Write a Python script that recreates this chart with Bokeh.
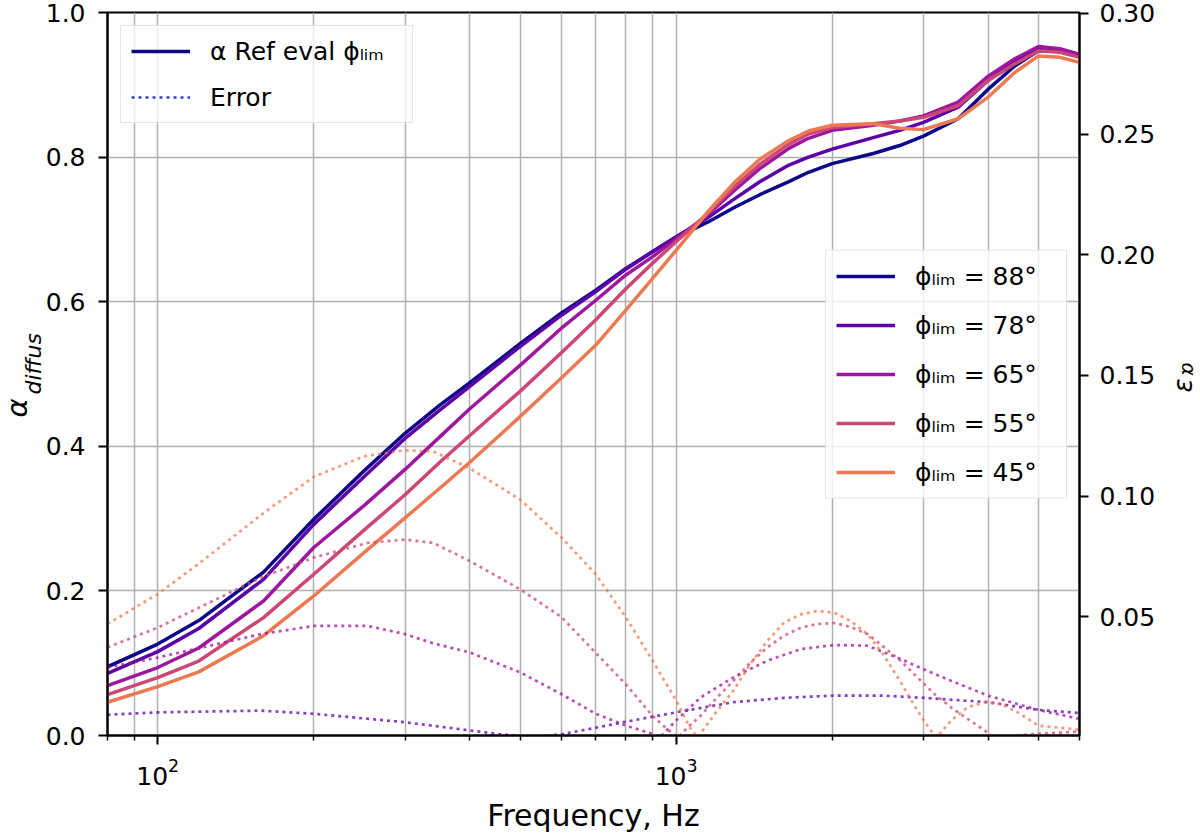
import numpy as np
from bokeh.plotting import figure
from bokeh.models import (LinearAxis, Range1d, FixedTicker, Legend, LegendItem, Label, Title,
                          PrintfTickFormatter)
from bokeh.embed import file_html
from bokeh.resources import INLINE

# ---------------- data ----------------
FREQ_HZ = [80, 100, 120, 160, 200, 250, 300, 350, 400, 500, 600, 700, 800, 900, 1000,
           1150, 1300, 1450, 1650, 1800, 2000, 2400, 2700, 3000, 3500, 4000, 4500, 5000, 5500, 6000]

ALPHA_88 = [0.095, 0.1265, 0.159, 0.226, 0.299, 0.366, 0.418, 0.457, 0.488, 0.542, 0.584, 0.616, 0.646, 0.669, 0.689,
            0.710, 0.731, 0.748, 0.766, 0.779, 0.791, 0.805, 0.816, 0.829, 0.853, 0.894, 0.926, 0.947, 0.946, 0.940]
ALPHA_78 = [0.086, 0.116, 0.148, 0.216, 0.292, 0.358, 0.411, 0.450, 0.483, 0.538, 0.581, 0.614, 0.645, 0.669, 0.690,
            0.716, 0.743, 0.766, 0.789, 0.800, 0.811, 0.827, 0.837, 0.848, 0.869, 0.906, 0.933, 0.952, 0.949, 0.942]
ALPHA_65 = [0.069, 0.094, 0.121, 0.186, 0.260, 0.318, 0.368, 0.413, 0.452, 0.512, 0.563, 0.602, 0.637, 0.662, 0.687,
            0.720, 0.755, 0.784, 0.812, 0.826, 0.837, 0.844, 0.850, 0.857, 0.876, 0.912, 0.936, 0.953, 0.950, 0.942]
ALPHA_55 = [0.0566, 0.080, 0.103, 0.163, 0.223, 0.284, 0.333, 0.378, 0.415, 0.476, 0.529, 0.575, 0.618, 0.653, 0.683,
            0.722, 0.760, 0.790, 0.818, 0.832, 0.841, 0.846, 0.850, 0.855, 0.871, 0.906, 0.929, 0.947, 0.945, 0.938]
ALPHA_45 = [0.046, 0.0676, 0.088, 0.138, 0.193, 0.253, 0.301, 0.342, 0.378, 0.441, 0.494, 0.540, 0.5885, 0.632, 0.671,
            0.724, 0.766, 0.797, 0.823, 0.836, 0.844, 0.846, 0.840, 0.838, 0.853, 0.883, 0.917, 0.940, 0.938, 0.931]

ERR_88_FREQ = [80, 6000]
ERR_88 = [0.0, 0.0]

ERR_78_FREQ = [80, 100, 158, 200, 300, 400, 450, 530, 607, 700, 800, 1000, 1290, 1615, 2000, 2520, 3000, 4000, 5000, 6000]
ERR_78 = [0.0094, 0.0104, 0.0111, 0.0098, 0.0063, 0.0029, 0.0015, 0.0, 0.0015, 0.004, 0.0065, 0.0104, 0.0146,
          0.0164, 0.0173, 0.0173, 0.0164, 0.0146, 0.0114, 0.0101]

ERR_65_FREQ = [80, 100, 158, 200, 254, 300, 340, 400, 500, 600, 700, 800, 900, 930, 1000, 1115, 1290, 1500, 1740,
               2020, 2340, 2710, 3000, 3390, 4000, 5000, 6000]
ERR_65 = [0.029, 0.0331, 0.0428, 0.0462, 0.0462, 0.0428, 0.039, 0.0352, 0.027, 0.018, 0.0098, 0.0049, 0.0015, 0.0,
          0.007, 0.0166, 0.0249, 0.0318, 0.0366, 0.0383, 0.038, 0.0325, 0.0283, 0.0235, 0.0173, 0.0114, 0.0077]

ERR_55_FREQ = [80, 100, 158, 200, 254, 300, 340, 400, 500, 600, 700, 800, 900, 960, 1010, 1050, 1115, 1200, 1290,
               1390, 1500, 1615, 1740, 1870, 2020, 2170, 2340, 2520, 2710, 2920, 3150, 3390, 3650, 3930, 4100,
               4500, 5000, 5500, 6000]
ERR_55 = [0.0373, 0.0455, 0.0662, 0.0745, 0.0806, 0.082, 0.0806, 0.0731, 0.0614, 0.050, 0.035, 0.022, 0.009, 0.0035,
          0.0, 0.004, 0.009, 0.0166, 0.0235, 0.031, 0.0373, 0.0421, 0.0455, 0.047, 0.0474, 0.0458, 0.0428, 0.0373,
          0.0318, 0.0249, 0.018, 0.0125, 0.0077, 0.003, 0.0, 0.0008, 0.0015, 0.002, 0.0025]

ERR_45_FREQ = [80, 100, 120, 160, 200, 250, 300, 340, 400, 500, 600, 700, 800, 900, 1000, 1060, 1100, 1200, 1290,
               1390, 1500, 1615, 1740, 1870, 2020, 2170, 2340, 2520, 2710, 2920, 3080, 3180, 3390, 3650, 3930,
               4230, 4560, 5000, 5500, 6000]
ERR_45 = [0.047, 0.0594, 0.072, 0.093, 0.108, 0.1165, 0.119, 0.1185, 0.1115, 0.0986, 0.083, 0.0676, 0.0497, 0.032,
          0.0153, 0.0045, 0.0, 0.011, 0.0194, 0.0304, 0.040, 0.0476, 0.051, 0.0524, 0.0517, 0.0483, 0.0428, 0.0339,
          0.023, 0.0111, 0.0036, 0.0, 0.007, 0.0125, 0.0146, 0.0139, 0.0104, 0.0049, 0.004, 0.0032]

PHI_LIM = ["88", "78", "65", "55", "45"]
COLORS = ["#0d0887", "#5c01a6", "#9c179e", "#cc4778", "#ed7953"]

X_MAJOR = [100, 1000]
X_MINOR = [80, 90, 200, 300, 400, 500, 600, 700, 800, 900, 2000, 3000, 4000, 5000, 6000]
Y_TICKS = [0.0, 0.2, 0.4, 0.6, 0.8, 1.0]
ERR_TICKS = [0.05, 0.10, 0.15, 0.20, 0.25, 0.30]

FONT = "DejaVu Sans"

# ---------------- figure ----------------
p = figure(width=1200, height=840, x_axis_type="log", x_range=(80, 6000), y_range=(0, 1),
           output_backend="svg", toolbar_location=None,
           min_border_left=107, min_border_right=121, min_border_top=12, min_border_bottom=105)
p.extra_y_ranges = {"err": Range1d(0.0008, 0.3004)}
p.background_fill_color = "white"
p.border_fill_color = "white"
p.outline_line_color = "black"
p.outline_line_width = 2
p.outline_line_alpha = 1.0

xa = p.xaxis[0]
xa.ticker = FixedTicker(ticks=X_MAJOR, minor_ticks=X_MINOR)
xa.axis_label = "Frequency, Hz"
xa.axis_label_text_font = FONT
xa.axis_label_text_font_size = "30px"
xa.axis_label_text_font_style = "normal"
xa.axis_label_text_color = "black"
xa.axis_label_standoff = 10
xa.major_label_standoff = 13

ya = p.yaxis[0]
ya.ticker = FixedTicker(ticks=Y_TICKS)
ya.formatter = PrintfTickFormatter(format="%.1f")
ya.major_label_standoff = 13

ra = LinearAxis(y_range_name="err", ticker=FixedTicker(ticks=ERR_TICKS),
                formatter=PrintfTickFormatter(format="%.2f"))
ra.major_label_standoff = 11
p.add_layout(ra, "right")

for ax in (xa, ya, ra):
    ax.axis_line_width = 2
    ax.axis_line_color = "black"
    ax.major_tick_line_width = 2
    ax.major_tick_line_color = "black"
    ax.major_tick_out = 9
    ax.major_tick_in = 0
    ax.minor_tick_line_width = 1.5
    ax.minor_tick_line_color = "black"
    ax.minor_tick_out = 5
    ax.minor_tick_in = 0
    ax.major_label_text_font = FONT
    ax.major_label_text_font_size = "25px"
    ax.major_label_text_color = "black"
ya.minor_tick_line_color = None
ra.minor_tick_line_color = None

p.xgrid.ticker = xa.ticker
p.ygrid.ticker = ya.ticker
p.xgrid.grid_line_color = "#b0b0b0"
p.xgrid.grid_line_width = 1.5
p.xgrid.minor_grid_line_color = "#b0b0b0"
p.xgrid.minor_grid_line_width = 1.5
p.ygrid.grid_line_color = "#b0b0b0"
p.ygrid.grid_line_width = 1.5

# ---------------- lines ----------------
solids = [ALPHA_88, ALPHA_78, ALPHA_65, ALPHA_55, ALPHA_45]
errors = [(ERR_88_FREQ, ERR_88), (ERR_78_FREQ, ERR_78), (ERR_65_FREQ, ERR_65),
          (ERR_55_FREQ, ERR_55), (ERR_45_FREQ, ERR_45)]

solid_r = []
for vals, c in zip(solids, COLORS):
    solid_r.append(p.line(FREQ_HZ, vals, line_color=c, line_width=3.5, line_join="round"))

for (f, e), c in zip(errors, COLORS):
    p.line(f, e, line_color=c, line_width=2.7, line_dash="3 4", line_alpha=0.75, y_range_name="err")

# legend-only proxies (a single point draws no visible line)
r_ref = p.line([1000], [0.5], line_color="#0d0887", line_width=3.5)
r_err = p.line([1000], [0.5], line_color="#3b3bd6", line_width=2.7, line_dash="3 4")

# ---------------- legends ----------------
def style_legend(lg, lh, sp, pad, margin, lw):
    lg.label_text_font = FONT
    lg.label_text_font_size = "25px"
    lg.label_text_color = "black"
    lg.glyph_width = 59
    lg.glyph_height = lh
    lg.label_height = lh
    lg.label_width = lw
    lg.label_standoff = 20
    lg.spacing = sp
    lg.padding = pad
    lg.margin = margin
    lg.border_line_color = "#cccccc"
    lg.border_line_width = 1.5
    lg.background_fill_color = "white"
    lg.background_fill_alpha = 0.8

leg1 = Legend(items=[LegendItem(label="α Ref eval ϕₗᵢₘ", renderers=[r_ref]),
                     LegendItem(label="Error", renderers=[r_err])],
              location="top_left")
style_legend(leg1, 30, 16, 10, 13, 192)

leg2 = Legend(items=[LegendItem(label="ϕₗᵢₘ = %s°" % a, renderers=[r]) for a, r in zip(PHI_LIM, solid_r)],
              location="right")
style_legend(leg2, 31, 18, 10, 12, 141)

p.add_layout(leg1)
p.add_layout(leg2)

# ---------------- left axis label: alpha with subscript "diffus" ----------------
t_sub = Title(text="diffus", text_font=FONT, text_font_size="22px", text_font_style="italic",
              text_color="black", vertical_align="top", align="left", offset=341, standoff=-10)
t_alpha = Title(text="α", text_font=FONT, text_font_size="29px", text_font_style="italic",
                text_color="black", vertical_align="bottom", align="left", offset=318, standoff=-17)
p.add_layout(t_sub, "left")
p.add_layout(t_alpha, "left")

# ---------------- right axis label: epsilon with subscript alpha ----------------
p.add_layout(Label(x=1182, y=343, x_units="canvas", y_units="screen", text="ε", angle=np.pi / 2,
                   text_font=FONT, text_font_size="26px", text_font_style="italic",
                   text_align="left", text_baseline="alphabetic", text_color="black"), "right")
t_eps_sub = Title(text="α", text_font=FONT, text_font_size="20px", text_font_style="italic",
                  text_color="black", vertical_align="bottom", align="left", offset=350, standoff=-24)
p.add_layout(t_eps_sub, "right")

open("out.html", "w").write(file_html(p, INLINE))
